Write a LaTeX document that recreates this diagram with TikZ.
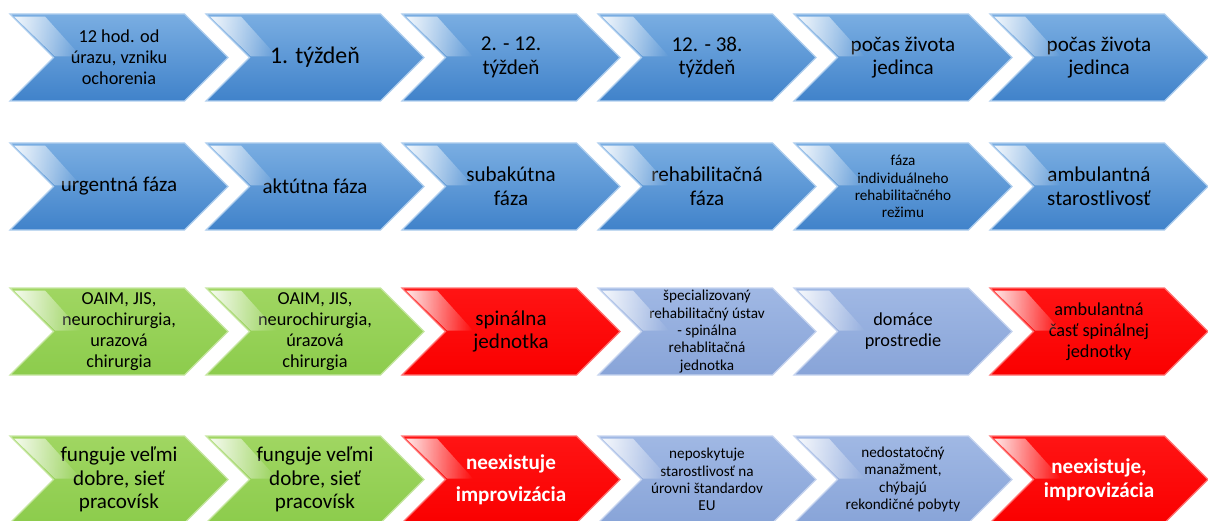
\documentclass[tikz,border=0pt]{standalone}
\usepackage{fontspec}
\setmainfont{Carlito}
\usetikzlibrary{shapes.symbols,fadings}

\definecolor{bluetop}{RGB}{122,174,226}
\definecolor{bluebot}{RGB}{64,130,202}
\definecolor{greentop}{RGB}{160,214,98}
\definecolor{greenbot}{RGB}{140,204,76}
\definecolor{redtop}{RGB}{255,20,20}
\definecolor{redbot}{RGB}{250,0,0}
\definecolor{lavtop}{RGB}{160,184,228}
\definecolor{lavbot}{RGB}{136,164,216}

\tikzstyle{chev} = [signal, signal to=east, signal from=west, signal pointer angle=90, minimum width=5.45cm, minimum height=2.175cm, inner sep=0pt, align=center, text=black, line width=0.8pt]
\tikzstyle{chev-blue} = [chev, top color=bluetop, bottom color=bluebot, draw=bluetop!60!white]
\tikzstyle{chev-green} = [chev, top color=greentop, bottom color=greenbot, draw=greentop!60!white]
\tikzstyle{chev-red} = [chev, top color=redtop, bottom color=redbot, draw=red!55!white]
\tikzstyle{chev-lav} = [chev, top color=lavtop, bottom color=lavbot, draw=lavtop!60!white]
\tikzstyle{txt-xl} = [font=\fontsize{17}{20}\selectfont]
\tikzstyle{txt-l} = [font=\fontsize{15}{16.8}\selectfont]
\tikzstyle{txt-m} = [font=\fontsize{13}{15}\selectfont]
\tikzstyle{txt-s} = [font=\fontsize{10.8}{12.3}\selectfont]
\tikzstyle{txt-w} = [font=\fontsize{15}{17}\selectfont\bfseries, text=white]

% white sheen along the upper edge of the notch
\newcommand{\gloss}[1]{%
  \begin{scope}[shift={(#1.center)}, x=0.025cm, y=-0.025cm]
    \fill[white, path fading=east, fill opacity=0.9] (-105,-41) -- (-74,-41) -- (-38,-1) -- (-64,-1) -- cycle;
  \end{scope}}

\begin{document}
\begin{tikzpicture}[node distance=4.9cm]
  \useasboundingbox (0,0) rectangle (30.2,-13.025);

  % time
  \node (time1) [chev-blue, txt-m] at (2.975,-1.4375) {12 hod. od\\ úrazu, vzniku\\ ochorenia};
  \node (time2) [chev-blue, txt-xl, right of=time1] {1. týždeň};
  \node (time3) [chev-blue, txt-l, right of=time2] {2. - 12.\\ týždeň};
  \node (time4) [chev-blue, txt-l, right of=time3] {12. - 38.\\ týždeň};
  \node (time5) [chev-blue, txt-l, right of=time4] {počas života\\ jedinca};
  \node (time6) [chev-blue, txt-l, right of=time5] {počas života\\ jedinca};

  % phases
  \node (phase1) [chev-blue, txt-l] at (2.975,-4.6625) {urgentná fáza};
  \node (phase2) [chev-blue, txt-l, right of=phase1] {aktútna fáza};
  \node (phase3) [chev-blue, txt-l, right of=phase2] {subakútna\\ fáza};
  \node (phase4) [chev-blue, txt-l, right of=phase3] {rehabilitačná\\ fáza};
  \node (phase5) [chev-blue, txt-s, right of=phase4] {fáza\\ individuálneho\\ rehabilitačného\\ režimu};
  \node (phase6) [chev-blue, txt-l, right of=phase5] {ambulantná\\ starostlivosť};

  % places
  \node (place1) [chev-green, txt-m] at (2.975,-8.2875) {OAIM, JIS,\\ neurochirurgia,\\ urazová\\ chirurgia};
  \node (place2) [chev-green, txt-m, right of=place1] {OAIM, JIS,\\ neurochirurgia,\\ úrazová\\ chirurgia};
  \node (place3) [chev-red, txt-l, right of=place2] {spinálna\\ jednotka};
  \node (place4) [chev-lav, txt-s, right of=place3] {špecializovaný\\ rehabilitačný ústav\\ - spinálna\\ rehablitačná\\ jednotka};
  \node (place5) [chev-lav, txt-m, right of=place4] {domáce\\ prostredie};
  \node (place6) [chev-red, txt-m, right of=place5] {ambulantná\\ časť spinálnej\\ jednotky};

  % state
  \node (state1) [chev-green, txt-l] at (2.975,-11.9875) {funguje veľmi\\ dobre, sieť\\ pracovísk};
  \node (state2) [chev-green, txt-l, right of=state1] {funguje veľmi\\ dobre, sieť\\ pracovísk};
  \node (state3) [chev-red, txt-w, right of=state2] {neexistuje\\[6pt] improvizácia};
  \node (state4) [chev-lav, txt-s, right of=state3] {neposkytuje\\ starostlivosť na\\ úrovni štandardov\\ EU};
  \node (state5) [chev-lav, txt-s, right of=state4] {nedostatočný\\ manažment,\\ chýbajú\\ rekondičné pobyty};
  \node (state6) [chev-red, txt-w, right of=state5] {neexistuje,\\ improvizácia};

  \foreach \n in {time,phase,place,state}
    \foreach \i in {1,...,6}
      \gloss{\n\i};
\end{tikzpicture}
\end{document}
